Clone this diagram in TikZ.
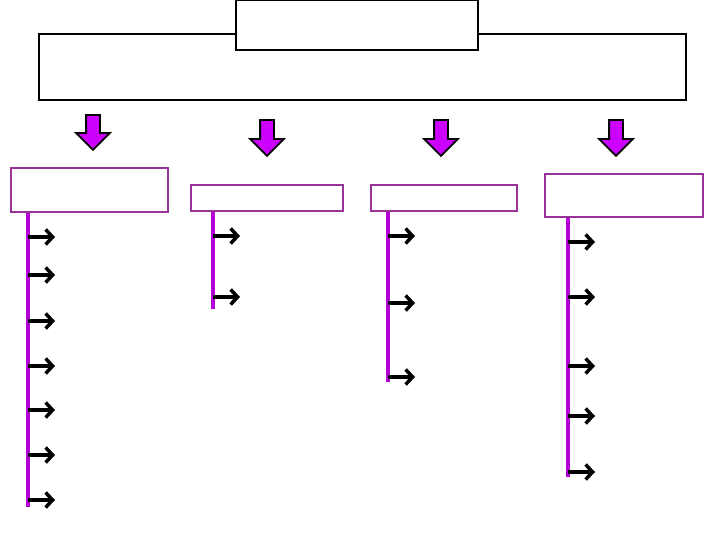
\documentclass[tikz,border=0pt]{standalone}
\usetikzlibrary{arrows.meta,positioning,shapes.arrows}
\definecolor{boxline}{RGB}{153,51,153}
\definecolor{stemline}{RGB}{180,0,215}
\definecolor{blockfill}{RGB}{204,0,255}

\begin{document}
\begin{tikzpicture}[
  x=1pt, y=-1pt,
  frame/.style={draw, line width=2pt, fill=white, inner sep=0pt},
  branch/.style={draw=boxline, line width=1.2pt, fill=white, inner sep=0pt},
  downarrow/.style={single arrow, draw, line width=1.8pt, fill=blockfill,
                    shape border rotate=270, inner sep=6pt,
                    single arrow head extend=10pt, minimum width=32pt},
  stem/.style={draw=stemline, line width=3.5pt},
  tick/.style={line width=3.5pt, -{Straight Barb[length=7pt,width=15pt,line width=3.5pt]}},
]
\useasboundingbox (0,0) rectangle (720,540);

% heading
\node[frame, minimum width=647pt, minimum height=66pt] (main) at (362.5,67) {};
\node[frame, minimum width=242pt, minimum height=50pt] (title) at (357,25) {};

% block arrows
\node[downarrow, minimum height=35pt] (d1) at (93,129) {};
\node[downarrow, minimum height=36pt] (d2) at (267,134.5) {};
\node[downarrow, minimum height=36pt] (d3) at (441,134.5) {};
\node[downarrow, minimum height=36pt] (d4) at (616,134.5) {};

% branch boxes
\node[branch, minimum width=157pt, minimum height=44pt] (b1) at (89.5,190) {};
\node[branch, minimum width=152pt, minimum height=26pt] (b2) at (267,198) {};
\node[branch, minimum width=146pt, minimum height=26pt] (b3) at (444,198) {};
\node[branch, minimum width=158pt, minimum height=43pt] (b4) at (624,195.5) {};

% stems
\coordinate (e1) at (28,507);
\coordinate (e2) at (213,309);
\coordinate (e3) at (388,382);
\coordinate (e4) at (568,477);
\foreach \b/\e in {b1/e1,b2/e2,b3/e3,b4/e4} \draw[stem] (\b.south -| \e) -- (\e);

% items
\foreach \y in {237,275,321,366,410,455,500} \draw[tick] (e1 |- 0,\y) -- ++(27,0);
\foreach \y in {236,297} \draw[tick] (e2 |- 0,\y) -- ++(27,0);
\foreach \y in {236,303,377} \draw[tick] (e3 |- 0,\y) -- ++(27,0);
\foreach \y in {242,297,366,416,472} \draw[tick] (e4 |- 0,\y) -- ++(27,0);
\end{tikzpicture}
\end{document}
